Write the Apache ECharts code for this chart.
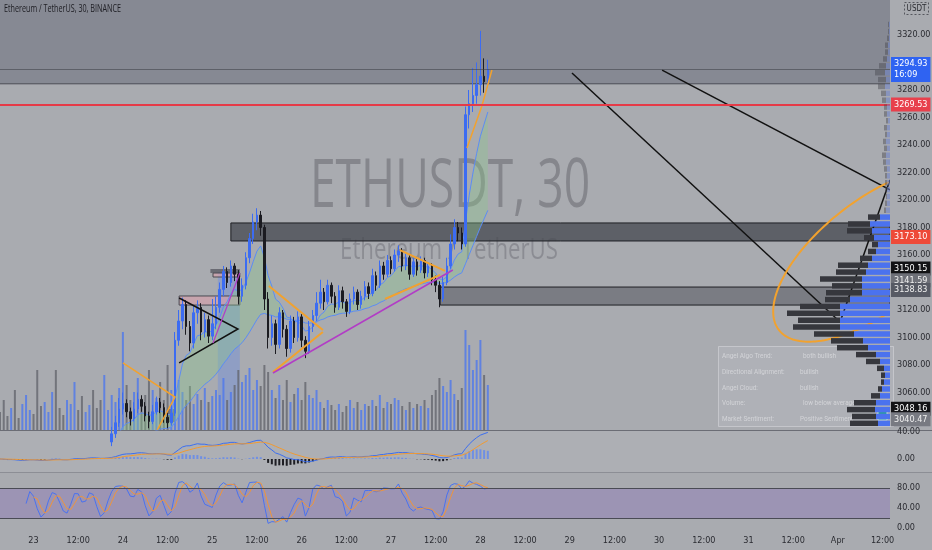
<!DOCTYPE html>
<html><head><meta charset="utf-8">
<script src="https://cdn.jsdelivr.net/npm/echarts@6/dist/echarts.min.js"></script>
<style>html,body{margin:0;padding:0;background:#a9abb0}#c{width:932px;height:550px}</style>
</head><body><div id="c"></div>
<script>
// ---------- DATA ----------
const startTime = Date.UTC(2024, 2, 22, 15);   // first hourly slot
const slotCount = 240;                          // hourly slots shown on the time axis
// hourly candles [open, close, low, high]
const candles = [
 [3022,3018,3014,3026],[3018,3014,3010,3021],[3014,3010,3005,3017],[3010,3016,3008,3020],[3016,3012,3007,3019],
 [3012,3006,3002,3015],[3006,3009,3003,3013],[3009,3015,3007,3019],[3015,3019,3012,3024],[3019,3013,3010,3022],
 [3013,3008,3004,3016],[3008,3004,3000,3012],[3004,3010,3002,3014],[3010,3016,3008,3020],[3016,3021,3014,3028],
 [3021,3017,3013,3024],[3017,3012,3008,3020],[3012,3007,3003,3015],[3007,3011,3005,3016],[3011,3018,3009,3022],
 [3018,3024,3016,3030],[3024,3019,3015,3027],[3019,3015,3011,3022],[3015,3020,3013,3025],[3020,3026,3018,3032],
 [3026,3022,3018,3029],[3022,3017,3013,3025],[3017,3013,3009,3021],[3013,3019,3011,3024],[3019,3024,3017,3029],
 [3024,3030,3021,3035],[3030,3038,3027,3043],[3038,3048,3035,3056],[3048,3052,3044,3060],[3052,3046,3042,3055],
 [3046,3041,3036,3049],[3041,3048,3039,3053],[3048,3055,3045,3060],[3055,3050,3046,3058],[3050,3043,3039,3053],
 [3043,3039,3034,3046],[3039,3046,3037,3051],[3046,3053,3044,3057],[3053,3049,3045,3056],[3049,3042,3038,3052],
 [3042,3038,3034,3045],[3038,3045,3036,3052],[3045,3098,3043,3104],[3098,3112,3094,3120],[3112,3124,3106,3129],
 [3124,3108,3102,3127],[3108,3096,3090,3112],[3096,3118,3092,3123],[3118,3122,3110,3127],[3122,3104,3098,3125],
 [3104,3113,3100,3118],[3113,3101,3096,3116],[3101,3110,3098,3128],[3110,3122,3106,3130],[3122,3135,3118,3140],
 [3135,3148,3130,3152],[3148,3140,3136,3151],[3140,3152,3137,3156],[3152,3146,3141,3154],[3146,3130,3124,3149],
 [3130,3138,3126,3143],[3138,3158,3135,3162],[3158,3172,3154,3176],[3172,3184,3168,3190],[3184,3189,3178,3194],
 [3189,3180,3174,3192],[3180,3128,3120,3182],[3128,3100,3092,3133],[3100,3110,3094,3116],[3110,3095,3088,3113],
 [3095,3118,3092,3122],[3118,3106,3100,3120],[3106,3092,3086,3109],[3092,3112,3089,3116],[3112,3100,3096,3115],
 [3100,3115,3097,3119],[3115,3098,3093,3117],[3098,3090,3085,3101],[3090,3108,3088,3112],[3108,3116,3104,3120],
 [3116,3125,3112,3133],[3125,3133,3121,3142],[3133,3126,3120,3136],[3126,3138,3124,3142],[3138,3130,3125,3140],
 [3130,3122,3118,3133],[3122,3134,3120,3138],[3134,3126,3121,3137],[3126,3119,3115,3128],[3119,3128,3117,3132],
 [3128,3133,3124,3137],[3133,3124,3120,3135],[3124,3130,3121,3134],[3130,3137,3127,3141],[3137,3132,3128,3140],
 [3132,3145,3130,3150],[3145,3138,3134,3148],[3138,3152,3136,3156],[3152,3146,3142,3155],[3146,3156,3144,3160],
 [3156,3150,3146,3159],[3150,3160,3148,3164],[3160,3163,3155,3167],[3163,3152,3148,3165],[3152,3158,3149,3161],
 [3158,3146,3142,3160],[3146,3155,3144,3158],[3155,3149,3145,3157],[3149,3156,3147,3159],[3156,3147,3143,3158],
 [3147,3152,3144,3155],[3152,3142,3138,3154],[3142,3138,3133,3145],[3138,3128,3122,3141],[3128,3140,3126,3144],
 [3140,3152,3138,3158],[3152,3168,3150,3175],[3168,3180,3164,3186],[3180,3176,3170,3184],[3176,3168,3164,3180],
 [3168,3262,3166,3268],[3262,3270,3252,3280],[3270,3276,3264,3296],[3276,3284,3270,3300],[3284,3290,3276,3323],
 [3290,3286,3278,3303],[3286,3294.93,3282,3302]
];
const volumes = [
 18,30,14,22,40,12,26,35,20,16,60,24,28,18,38,60,22,15,30,26,48,20,34,18,25,40,22,30,55,20,35,28,42,
 98,45,30,38,52,28,35,60,40,32,48,30,65,40,
 72,50,38,30,44,26,36,30,42,28,34,
 40,35,52,30,38,45,60,48,55,62,40,50,44,
 65,58,40,32,45,30,50,28,36,42,30,48,35,
 32,40,28,22,30,25,20,26,18,24,30,22,28,20,26,24,
 30,24,35,22,28,26,32,30,24,20,28,22,26,24,30,22,
 35,40,52,44,38,50,36,30,42,
 100,85,60,70,90,55,45
];
// volume profile: bin lower price, up (blue) and down (dark) volume
const profilePrices = [3035,3040,3045,3050,3055,3060,3065,3070,3075,3080,3085,3090,3095,3100,3105,3110,3115,3120,3125,3130,
 3135,3140,3145,3150,3155,3160,3165,3170,3175,3180,3185,3190,3195,3200,3205,3210,3215,3220,3225,3230,
 3235,3240,3245,3250,3255,3260,3265,3270,3275,3280,3285,3290,3295,3300,3305,3310,3315,3320,3325];
const profileBlue = [12,14,15,14,10,8,6,5,6,10,14,22,27,36,50,50,50,50,40,28,28,28,24,22,18,14,12,16,18,20,
 10,4,3,3,3,3,3,3,4,4,3,4,3,3,2,3,3,4,4,5,4,5,4,3,2,2,1,1,1];
const profileDark = [28,24,28,22,9,4,3,4,7,14,20,31,32,40,47,42,53,40,25,36,30,42,30,30,12,8,6,10,25,22,
 12,2,2,1,2,2,2,3,3,4,3,3,2,3,2,3,3,4,5,7,8,10,7,4,3,3,2,1,1];
// price axis badges
const priceBadges = [
 {value:3294.93, text:'3294.93\n16:09', bg:'#2f63f2', fg:'#ffffff'},
 {value:3269.53, text:'3269.53', bg:'#e8404c', fg:'#ffffff'},
 {value:3173.10, text:'3173.10', bg:'#ee4a38', fg:'#ffffff'},
 {value:3150.15, text:'3150.15', bg:'#121215', fg:'#ffffff'},
 {value:3141.59, text:'3141.59', bg:'#6e7078', fg:'#f0f0f0'},
 {value:3138.83, text:'3138.83', bg:'#575a64', fg:'#f0f0f0'},
 {value:3048.16, text:'3048.16', bg:'#121215', fg:'#ffffff'},
 {value:3040.47, text:'3040.47', bg:'#787a82', fg:'#f0f0f0'}
];
const tableRows = [
 ['Angel Algo Trend:', 'both bullish'],
 ['Directional Alignment:', 'bullish'],
 ['Angel Cloud:', 'bullish'],
 ['Volume:', 'low below average'],
 ['Market Sentiment:', 'Positive Sentiment']
];

// ---------- derived ----------
const slots = [];
for (let i = 0; i < slotCount; i++) slots.push(new Date(startTime + i * 3600e3).toISOString());
const closes = candles.map(c => c[1]);
const lows = candles.map(c => c[2]);
const highs = candles.map(c => c[3]);
function ema(src, n) { const k = 2 / (n + 1); let p = null; return src.map(v => { p = p === null ? v : v * k + p * (1 - k); return p; }); }
function sma(src, n) { return src.map((v, i) => { if (i < n - 1) return null; let s = 0; for (let j = i - n + 1; j <= i; j++) { if (src[j] == null) return null; s += src[j]; } return s / n; }); }
const emaFast = ema(closes, 8), emaSlow = ema(closes, 34);
const cloudBand = emaFast.map((f, i) => Math.max(0, f - emaSlow[i]));
const e12 = ema(closes, 12), e26 = ema(closes, 26);
const macd = e12.map((v, i) => v - e26[i]);
const signal = ema(macd, 9);
const hist = macd.map((v, i) => v - signal[i]);
const stochLen = 7;
const kRaw = closes.map((c, i) => { if (i < stochLen - 1) return null; const hh = Math.max(...highs.slice(i - stochLen + 1, i + 1)); const ll = Math.min(...lows.slice(i - stochLen + 1, i + 1)); return (c - ll) / (hh - ll) * 100; });
const stochK = sma(kRaw, 2);
const stochD = sma(stochK, 3);

// ---------- annotations (data coordinates: slot index, price) ----------
const below = [
 {kind:'rect', from:[0,3284.5], to:[239,3345.45], fill:'#868993'},
 {kind:'line', points:[[0,3284.5],[239,3284.5]], color:'#4b4d56', lw:1},
 {kind:'rect', from:[62,3183.3], to:[239,3170.2], fill:'rgba(72,74,82,0.78)', stroke:'#1e1f24'},
 {kind:'rect', from:[118.2,3136.7], to:[239,3123.6], fill:'rgba(92,94,102,0.6)', stroke:'#1e1f24'},
 {kind:'rect', from:[58.5,3147.6], to:[64.4,3032.7], fill:'rgba(95,135,235,0.35)'},
 {kind:'rect', from:[48.1,3130.2], to:[64.4,3123.6], fill:'rgba(215,160,172,0.65)', stroke:'#4a4a52'},
 {kind:'rect', from:[57.2,3146.9], to:[64.4,3144.0], fill:'rgba(215,160,172,0.65)', stroke:'#4a4a52'},
 {kind:'rect', from:[56.5,3149.8], to:[64.4,3146.9], fill:'rgba(80,80,90,0.7)'},
 {kind:'rect', from:[44.8,3048], to:[47,3038.5], fill:'rgba(80,80,90,0.6)'}
];
const above = [
 {kind:'line', points:[[48.1,3128.7],[63.9,3106.2],[48.1,3081.5]], color:'#111', lw:1.5},
 {kind:'line', points:[[33,3081.5],[47,3056.7],[42.2,3032.7]], color:'#f2a22e', lw:1.5},
 {kind:'line', points:[[72.2,3137.5],[86.7,3105.5]], color:'#f2a22e', lw:2},
 {kind:'line', points:[[73.3,3074.9],[86.7,3104]], color:'#f2a22e', lw:2},
 {kind:'line', points:[[107.4,3163.6],[119.5,3148.4]], color:'#f2a22e', lw:2},
 {kind:'line', points:[[103.4,3128],[118.2,3145.5]], color:'#f2a22e', lw:2},
 {kind:'line', points:[[125.4,3237.8],[129.4,3268.4],[132.1,3294.5]], color:'#f2a22e', lw:1.5},
 {kind:'line', points:[[73.3,3074.2],[121.6,3149.1]], color:'#b23cc6', lw:1.5},
 {kind:'line', points:[[57.2,3096],[64.4,3146.9]], color:'#b23cc6', lw:1.2},
 {kind:'line', points:[[153.6,3292.4],[225.6,3111.3]], color:'#111', lw:1.5},
 {kind:'line', points:[[177.8,3294.5],[239,3207.3]], color:'#111', lw:1.5},
 {kind:'line', points:[[225.6,3111.3],[239,3214.5]], color:'#111', lw:1.5},
 {kind:'ellipse', center:[235,3160], a:122, b:55, angle:-38, color:'#f2a22e', lw:2}
];
function annoRenderer(list) {
  return function (params, api) {
    const a = list[params.dataIndex];
    const cs = params.coordSys;
    if (a.kind === 'rect') {
      const p1 = api.coord(a.from), p2 = api.coord(a.to);
      return {type:'rect', shape:{x:Math.min(p1[0],p2[0]), y:Math.min(p1[1],p2[1]), width:Math.abs(p2[0]-p1[0]), height:Math.abs(p2[1]-p1[1])},
        style:{fill:a.fill, stroke:a.stroke || 'none', lineWidth:1}};
    }
    if (a.kind === 'line') {
      return {type:'polyline', shape:{points:a.points.map(p => api.coord(p))}, style:{stroke:a.color, lineWidth:a.lw, fill:'none'}};
    }
    const c = api.coord(a.center), th = a.angle * Math.PI / 180;
    const right = cs.x + cs.width;
    const segs = []; let cur = [];
    for (let s = 0; s <= 180; s++) {
      const t = s / 180 * Math.PI * 2 + 0.3;
      const x = c[0] + a.a * Math.cos(t) * Math.cos(th) - a.b * Math.sin(t) * Math.sin(th);
      const y = c[1] + a.a * Math.cos(t) * Math.sin(th) + a.b * Math.sin(t) * Math.cos(th);
      if (x <= right) cur.push([x, y]); else if (cur.length) { segs.push(cur); cur = []; }
    }
    if (cur.length) segs.push(cur);
    return {type:'group', children: segs.map(sg => ({type:'polyline', shape:{points:sg}, style:{stroke:a.color, lineWidth:a.lw, fill:'none'}}))};
  };
}
function profileRenderer(params, api) {
  const i = params.dataIndex, lo = profilePrices[i], hi = lo + 5;
  const b = profileBlue[i], d = profileDark[i];
  const upper = lo >= 3190;
  const a0 = api.coord([0, hi]), a1 = api.coord([b, lo]), a2 = api.coord([b + d, lo]);
  const y = a0[1] + 0.6, h = Math.max(1, a1[1] - a0[1] - 1.4);
  return {type:'group', children:[
    {type:'rect', shape:{x:a1[0], y:y, width:a0[0]-a1[0], height:h}, style:{fill: upper ? 'rgba(110,130,200,0.55)' : '#4b72ee'}},
    {type:'rect', shape:{x:a2[0], y:y, width:a1[0]-a2[0], height:h}, style:{fill: upper ? 'rgba(70,72,80,0.45)' : '#36373d'}}
  ]};
}

// ---------- chart ----------
const FONT = "'Liberation Sans Narrow','DejaVu Sans Condensed',Roboto,sans-serif";
const hourOf = v => new Date(v).getUTCHours();
const catBase = {type:'category', data:slots, boundaryGap:false, axisLine:{show:false}, axisTick:{show:false}, axisLabel:{show:false}, splitLine:{show:false}};
const priceMin = 3032.73, priceMax = 3345.45;
const chart = echarts.init(document.getElementById('c'), null, {renderer:'canvas'});
const gridBase = {left:0, right:42, outerBoundsMode:'none', containLabel:false};
const tableText = (txt, x, y) => ({type:'text', x:x, y:y, scaleX:0.8, style:{text:txt, font:"8px Roboto", fill:'#d3d4d8', verticalAlign:'middle'}});
chart.setOption({
  animation:false,
  backgroundColor:'#a9abb0',
  grid:[
    Object.assign({top:0, height:430}, gridBase),
    Object.assign({top:300, height:130}, gridBase),
    {left:700, right:42, top:0, height:430, outerBoundsMode:'none', containLabel:false},
    Object.assign({top:431, height:40}, gridBase),
    Object.assign({top:474, height:54}, gridBase)
  ],
  xAxis:[
    Object.assign({gridIndex:0}, catBase),
    {type:'value', gridIndex:0, min:0, max:slotCount-1, show:false},
    Object.assign({gridIndex:1}, catBase),
    {type:'value', gridIndex:2, min:0, max:190, inverse:true, show:false},
    Object.assign({gridIndex:3}, catBase),
    Object.assign({}, catBase, {gridIndex:4, axisLabel:{show:true, color:'#2a2b31', fontSize:9, fontFamily:FONT, margin:8,
      interval:(i, v) => hourOf(v) === 0 || hourOf(v) === 12,
      formatter:v => { const d = new Date(v); if (d.getUTCHours() === 12) return '12:00'; return d.getUTCDate() === 1 ? 'Apr' : String(d.getUTCDate()); }}})
  ],
  yAxis:[
    {type:'value', gridIndex:0, position:'right', min:priceMin, max:priceMax, splitNumber:15, axisLine:{show:false}, axisTick:{show:false}, splitLine:{show:false},
     axisLabel:{color:'#2a2b31', fontSize:9, fontFamily:FONT, margin:7, showMinLabel:false, showMaxLabel:false, formatter:v => v > 3330 ? '' : v.toFixed(2)}},
    {type:'value', gridIndex:1, min:0, max:130, show:false},
    {type:'value', gridIndex:2, min:priceMin, max:priceMax, show:false},
    {type:'value', gridIndex:3, position:'right', min:-17.8, max:41.5, splitNumber:5, axisLine:{show:false}, axisTick:{show:false}, splitLine:{show:false},
     axisLabel:{color:'#2a2b31', fontSize:9, fontFamily:FONT, margin:7, showMinLabel:false, showMaxLabel:false, formatter:v => (v === 0 || v === 40) ? v.toFixed(2) : ''}},
    {type:'value', gridIndex:4, position:'right', min:0, max:108, interval:40, axisLine:{show:false}, axisTick:{show:false}, splitLine:{show:false},
     axisLabel:{color:'#2a2b31', fontSize:9, fontFamily:FONT, margin:7, showMaxLabel:false, formatter:v => v.toFixed(2)}}
  ],
  graphic:[
    {type:'rect', z:0, shape:{x:0, y:431, width:932, height:42}, style:{fill:'#adafb4'}},
    {type:'line', z:0, shape:{x1:0, y1:430.5, x2:932, y2:430.5}, style:{stroke:'#6b6d75', lineWidth:1}},
    {type:'line', z:0, shape:{x1:0, y1:472.5, x2:932, y2:472.5}, style:{stroke:'#8c8e95', lineWidth:1}},
    {type:'text', z:0, x:450, y:188, scaleX:0.68, style:{text:'ETHUSDT, 30', font:"68px 'Open Sans'", fill:'rgba(68,70,78,0.36)', align:'center', verticalAlign:'middle'}},
    {type:'text', z:0, x:449, y:250, scaleX:0.74, style:{text:'Ethereum / TetherUS', font:"30px 'Open Sans'", fill:'rgba(68,70,78,0.3)', align:'center', verticalAlign:'middle'}},
    {type:'text', z:10, x:4, y:9, scaleX:0.72, style:{text:'Ethereum / TetherUS, 30, BINANCE', font:"10px 'Open Sans'", fill:'#202026', verticalAlign:'middle'}},
    {type:'rect', z:10, shape:{x:904.5, y:2.5, width:24, height:12}, style:{fill:'none', stroke:'#55575e', lineDash:[2,2], lineWidth:1}},
    {type:'text', z:10, x:916.5, y:9, style:{text:'USDT', font:"8px " + FONT, fill:'#2a2b31', align:'center', verticalAlign:'middle'}},
    {type:'group', z:0, x:718, y:346, children:[
      {type:'rect', shape:{x:0.5, y:0.5, width:175, height:80}, style:{fill:'rgba(190,192,198,0.3)', stroke:'rgba(205,206,211,0.75)', lineWidth:1}},
      ...tableRows.map((r, i) => tableText(r[0], 4, 10 + i * 15.8)),
      ...tableRows.map((r, i) => tableText(r[1], i === 0 || i === 3 ? 85 : 82, 10 + i * 15.8)),
      {type:'rect', shape:{x:160, y:65, width:9, height:9}, style:{fill:'#2a9e9a', stroke:'#cfe7e6', lineWidth:1}}
    ]}
  ],
  series:[
    {type:'custom', name:'zones', xAxisIndex:1, yAxisIndex:0, z:1, clip:true, silent:true,
     renderItem:annoRenderer(below), data:below.map(() => [0, 3200])},
    {type:'bar', name:'volume', xAxisIndex:2, yAxisIndex:1, z:1, barWidth:2, silent:true,
     data:volumes.map((v, i) => ({value:v, itemStyle:{color:candles[i][1] >= candles[i][0] ? 'rgba(72,116,240,0.75)' : 'rgba(96,98,106,0.75)'}}))},
    {type:'line', name:'cloudBase', xAxisIndex:0, yAxisIndex:0, z:2, stack:'cloud', symbol:'none', silent:true,
     data:emaSlow, lineStyle:{width:0}},
    {type:'line', name:'cloud', xAxisIndex:0, yAxisIndex:0, z:2, stack:'cloud', symbol:'none', silent:true,
     data:cloudBand, lineStyle:{width:0}, areaStyle:{color:'rgba(140,200,140,0.5)'}},
    {type:'line', name:'emaFast', xAxisIndex:0, yAxisIndex:0, z:2, symbol:'none', silent:true, data:emaFast, lineStyle:{color:'#5b8cf5', width:1}},
    {type:'line', name:'emaSlow', xAxisIndex:0, yAxisIndex:0, z:2, symbol:'none', silent:true, data:emaSlow, lineStyle:{color:'#5b8cf5', width:1}},
    {type:'candlestick', name:'ETHUSDT', xAxisIndex:0, yAxisIndex:0, z:3, barWidth:2, silent:true,
     itemStyle:{color:'#3c6cf2', color0:'#1b1b21', borderColor:'#3c6cf2', borderColor0:'#1b1b21', borderWidth:1},
     data:candles,
     markLine:{symbol:['none','none'], silent:true, animation:false,
       data:priceBadges.map((b, i) => ({yAxis:b.value,
         lineStyle:{color: i === 1 ? '#e63a47' : (i === 0 ? 'rgba(60,62,70,0.55)' : 'transparent'), width: i === 1 ? 2 : 1, type:'solid'},
         label:{show:true, position:'end', distance:1, formatter:b.text, backgroundColor:b.bg, color:b.fg, fontSize:9, fontFamily:FONT,
           padding:[2,3,1,3], lineHeight:11, offset: i === 5 ? [0, 6] : [0, 0]}}))}},
    {type:'custom', name:'drawings', xAxisIndex:1, yAxisIndex:0, z:4, clip:true, silent:true,
     renderItem:annoRenderer(above), data:above.map(() => [0, 3200])},
    {type:'custom', name:'profile', xAxisIndex:3, yAxisIndex:2, z:5, silent:true,
     renderItem:profileRenderer, data:profilePrices.map((p, i) => [profileBlue[i], p])},
    {type:'bar', name:'hist', xAxisIndex:4, yAxisIndex:3, barWidth:2, silent:true,
     data:hist.map(v => ({value:v, itemStyle:{color:v >= 0 ? 'rgba(95,135,240,0.8)' : '#1e1e24'}}))},
    {type:'line', name:'macd', xAxisIndex:4, yAxisIndex:3, symbol:'none', silent:true, data:macd, lineStyle:{color:'#3b6ef0', width:1}},
    {type:'line', name:'signal', xAxisIndex:4, yAxisIndex:3, symbol:'none', silent:true, data:signal, lineStyle:{color:'#f29a30', width:1}},
    {type:'line', name:'stochK', xAxisIndex:5, yAxisIndex:4, symbol:'none', silent:true, data:stochK, lineStyle:{color:'#4a72f0', width:1},
     markArea:{silent:true, itemStyle:{color:'rgba(130,100,190,0.32)'}, data:[[{yAxis:20},{yAxis:80}]]},
     markLine:{silent:true, symbol:['none','none'], label:{show:false}, lineStyle:{color:'#4a4b55', width:1, type:'solid'}, data:[{yAxis:20},{yAxis:80}]}},
    {type:'line', name:'stochD', xAxisIndex:5, yAxisIndex:4, symbol:'none', silent:true, data:stochD, lineStyle:{color:'#f0943a', width:1}}
  ]
});
</script></body></html>
